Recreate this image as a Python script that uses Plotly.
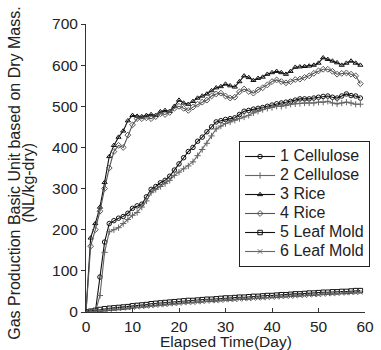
import plotly.graph_objects as go

DAYS = list(range(60))

CELLULOSE_1 = [0, 0, 0, 85, 170, 215, 222, 228, 232, 240,
               252, 258, 262, 280, 298, 305, 314, 320, 330, 345,
               360, 375, 390, 400, 415, 425, 438, 450, 462, 465,
               468, 470, 472, 480, 488, 490, 493, 495, 497, 500,
               503, 506, 508, 510, 512, 515, 518, 518, 518, 520,
               522, 524, 525, 522, 520, 525, 530, 526, 525, 520]
CELLULOSE_2 = [0, 0, 0, 40, 145, 195, 200, 205, 215, 225,
               235, 242, 255, 270, 290, 298, 305, 312, 320, 332,
               340, 348, 355, 365, 380, 395, 410, 428, 445, 452,
               458, 462, 466, 470, 474, 478, 484, 488, 492, 495,
               497, 500, 500, 502, 505, 506, 507, 508, 508, 508,
               510, 510, 512, 508, 506, 508, 510, 508, 505, 505]
RICE_3 = [0, 180, 215, 255, 315, 378, 405, 425, 440, 465,
          478, 476, 475, 478, 480, 478, 487, 490, 488, 500,
          515, 508, 505, 512, 520, 525, 530, 538, 545, 548,
          554, 550, 547, 560, 574, 570, 563, 568, 571, 578,
          582, 585, 582, 578, 585, 595, 596, 597, 598, 600,
          605, 618, 614, 610, 606, 600, 605, 610, 605, 600]
RICE_4 = [0, 160, 200, 245, 300, 350, 390, 405, 400, 430,
          455, 470, 470, 472, 470, 475, 482, 480, 485, 495,
          500, 495, 490, 498, 505, 510, 515, 525, 530, 532,
          525, 520, 522, 535, 542, 536, 532, 540, 545, 552,
          560, 564, 560, 557, 560, 565, 566, 570, 574, 580,
          586, 590, 590, 585, 578, 580, 581, 578, 574, 555]
LEAF_5 = [0, 2, 4, 6, 8, 9, 10, 11, 12, 13,
          15, 16, 17, 18, 20, 21, 22, 23, 24, 25,
          26, 27, 28, 28, 29, 30, 31, 31, 32, 33,
          34, 34, 35, 36, 36, 37, 38, 38, 39, 40,
          40, 41, 42, 42, 43, 44, 44, 45, 46, 46,
          47, 48, 48, 49, 49, 50, 50, 51, 52, 52]
LEAF_6 = [0, 1, 2, 4, 5, 6, 7, 8, 9, 10,
          11, 12, 13, 14, 15, 16, 17, 18, 19, 20,
          21, 22, 23, 23, 24, 25, 26, 27, 27, 28,
          29, 30, 30, 31, 32, 32, 33, 34, 34, 35,
          36, 36, 37, 38, 38, 39, 40, 40, 41, 42,
          42, 43, 44, 44, 45, 46, 46, 47, 47, 48]

NAMES = ["1 Cellulose", "2 Cellulose", "3 Rice", "4 Rice", "5 Leaf Mold", "6 Leaf Mold"]
SERIES = [CELLULOSE_1, CELLULOSE_2, RICE_3, RICE_4, LEAF_5, LEAF_6]
COLORS = ["#111111", "#666666", "#111111", "#555555", "#111111", "#666666"]
SYMBOLS = ["circle-open", "cross-thin-open", "triangle-up-open", "diamond-open", "square-open", "x-thin-open"]

X_TICKS = [0, 10, 20, 30, 40, 50, 60]
Y_TICKS = [0, 100, 200, 300, 400, 500, 600, 700]

FONT = "Arial, 'Liberation Sans', sans-serif"

fig = go.Figure()
for name, vals, col, sym in zip(NAMES, SERIES, COLORS, SYMBOLS):
    fig.add_trace(go.Scatter(
        x=DAYS, y=vals, mode="lines+markers",
        name='<span style="font-size:16px">' + name + '</span>',
        line=dict(color=col, width=1.1),
        marker=dict(symbol=sym, size=4.5, color=col, line=dict(width=1, color=col)),
    ))

fig.update_layout(
    width=381, height=350,
    margin=dict(l=86, r=7, t=24, b=38),
    paper_bgcolor="white", plot_bgcolor="white",
    font=dict(family=FONT, size=15, color="#222222"),
    showlegend=True,
    legend=dict(
        x=(244 - 86) / 288, y=(312 - 141) / 288, xanchor="left", yanchor="top",
        bgcolor="white", bordercolor="#222222", borderwidth=1,
        font=dict(size=12.3, family=FONT, color="#222222"),
        itemwidth=30, tracegroupgap=0,
    ),
    xaxis=dict(
        range=[0, 60], tickvals=X_TICKS, showgrid=False, zeroline=False,
        showline=True, linecolor="#333333", linewidth=1,
        ticks="inside", ticklen=4, tickcolor="#333333",
        tickfont=dict(size=15.5), ticklabeloverflow="allow",
    ),
    yaxis=dict(
        range=[0, 700], tickvals=Y_TICKS, showgrid=False, zeroline=False,
        showline=True, linecolor="#333333", linewidth=1,
        ticks="outside", ticklen=4, tickcolor="#333333",
        tickfont=dict(size=15.5),
    ),
    annotations=[
        dict(text="Gas Production Basic Unit based on Dry Mass.", textangle=-90,
             xref="paper", yref="paper", x=(12 - 86) / 288, y=(312 - 342) / 288,
             xanchor="center", yanchor="bottom", showarrow=False,
             font=dict(size=16, family=FONT, color="#222222")),
        dict(text="(NL/kg-dry)", textangle=-90,
             xref="paper", yref="paper", x=(27 - 86) / 288, y=(312 - 183) / 288,
             xanchor="center", yanchor="middle", showarrow=False,
             font=dict(size=16, family=FONT, color="#222222")),
        dict(text="Elapsed Time(Day)",
             xref="paper", yref="paper", x=0.5, y=(312 - 341) / 288,
             xanchor="center", yanchor="middle", showarrow=False,
             font=dict(size=15.5, family=FONT, color="#222222")),
    ],
)

fig.write_html("out.html", config={"displayModeBar": False},
               post_script="document.body.style.margin='0';")
